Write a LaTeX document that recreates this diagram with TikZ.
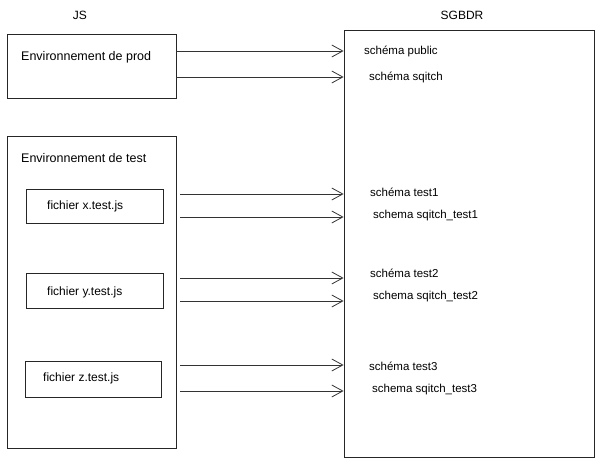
\documentclass[tikz,border=0pt]{standalone}
\usepackage{fontspec}
\setmainfont{Liberation Sans}
\usetikzlibrary{arrows.meta}

\begin{document}
\begin{tikzpicture}[x=1pt,y=-1pt,
    box/.style={draw=black!85,line width=0.8pt,inner sep=0pt},
    lbl/.style={anchor=west,inner sep=0pt,font=\fontsize{11.5}{13}\selectfont},
    filelbl/.style={anchor=west,inner sep=0pt,font=\fontsize{12}{14}\selectfont},
    envlbl/.style={anchor=west,inner sep=0pt,font=\fontsize{12.5}{14}\selectfont},
    title/.style={inner sep=0pt,font=\fontsize{12}{14}\selectfont},
    link/.style={draw=black!80,line width=0.8pt,-{Straight Barb[length=11pt,width=12pt,line width=0.8pt]}}]

  \useasboundingbox (0,0) rectangle (600,463);

  \node[title] (js) at (80,15) {JS};
  \node[title] (sgbdr) at (462,15) {SGBDR};

  \begin{scope}[every node/.style={box}]
    \node[minimum width=169,minimum height=64]  (prod) at (91.5,66)  {};
    \node[minimum width=169,minimum height=312] (test) at (91.5,292) {};
    \node[minimum width=137,minimum height=34]  (fx)   at (94.5,206) {};
    \node[minimum width=137,minimum height=35]  (fy)   at (94.5,290.5) {};
    \node[minimum width=136,minimum height=36]  (fz)   at (93,379) {};
    \node[minimum width=250,minimum height=427] (db)   at (469,243.5) {};
  \end{scope}

  \node[envlbl] (prodtxt) at (21,57)  {Environnement de prod};
  \node[envlbl] (testtxt) at (21,158) {Environnement de test};

  \begin{scope}[every node/.style={filelbl}]
    \node (fxtxt) at (47,206) {fichier x.test.js};
    \node (fytxt) at (47,292) {fichier y.test.js};
    \node (fztxt) at (43,378) {fichier z.test.js};
  \end{scope}

  \begin{scope}[every node/.style={lbl}]
    \node (public)  at (364,51)  {schéma public};
    \node (sqitch)  at (369,77)  {schéma sqitch};
    \node (test1)   at (370,192) {schéma test1};
    \node (sqtest1) at (373,216) {schema sqitch\_test1};
    \node (test2)   at (370,273) {schéma test2};
    \node (sqtest2) at (373,297) {schema sqitch\_test2};
    \node (test3)   at (369,366) {schéma test3};
    \node (sqtest3) at (372,390) {schema sqitch\_test3};
  \end{scope}

  \coordinate (in1) at (db.west |- 0,51);
  \coordinate (in2) at (db.west |- 0,77);
  \coordinate (in3) at (db.west |- 0,194);
  \coordinate (in4) at (db.west |- 0,217);
  \coordinate (in5) at (db.west |- 0,278);
  \coordinate (in6) at (db.west |- 0,301);
  \coordinate (in7) at (db.west |- 0,365);
  \coordinate (in8) at (db.west |- 0,391);

  \draw[link] (prod.east |- in1) -- (in1);
  \draw[link] (prod.east |- in2) -- (in2);
  \foreach \n in {3,...,8}
    \draw[link] ([xshift=4pt]test.east |- in\n) -- (in\n);

\end{tikzpicture}
\end{document}
